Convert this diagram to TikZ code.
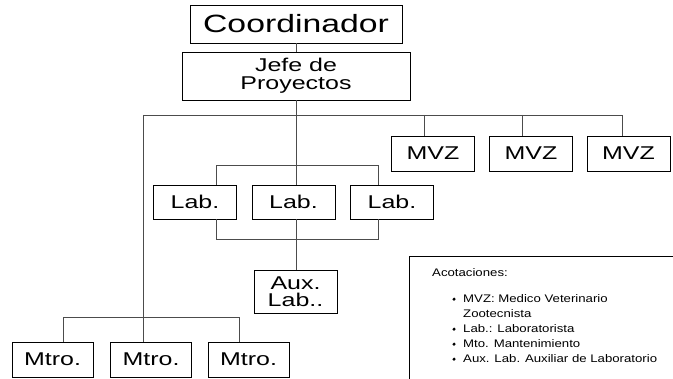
\documentclass[tikz,border=0pt]{standalone}
\usepackage{fontspec}
\setmainfont[FakeStretch=1.35]{Liberation Sans}
\newfontfamily\notafont[FakeStretch=1.2]{Liberation Sans}
\begin{document}
\begin{tikzpicture}[x=1pt,y=-1pt,
  puesto/.style={draw,line width=0.8pt,inner sep=0pt,minimum width=83pt,minimum height=35pt,
    font=\fontsize{18.5}{18}\selectfont,align=center},
  linea/.style={draw=black!70,line width=0.9pt},
  nota/.style={anchor=base west,inner sep=0pt,font=\notafont\fontsize{11}{13}\selectfont}]
  \useasboundingbox (0,0) rectangle (673,379);
  \clip (0,0) rectangle (673,379);
  % puestos
  \node[puesto,minimum width=212pt,minimum height=38pt,font=\fontsize{25}{25}\selectfont] (coord) at (296,24) {Coordinador};
  \node[puesto,minimum width=228pt,minimum height=48pt] (jefe) at (296,76) {Jefe de\\Proyectos};
  \foreach \n/\x in {1/433,2/531,3/628.5} \node[puesto] (mvz\n) at (\x,153.5) {MVZ};
  \foreach \n/\x in {1/195,2/293.5,3/392} \node[puesto,minimum height=34pt] (lab\n) at (\x,202) {Lab.};
  \node[puesto,minimum height=43pt,font=\fontsize{18.5}{17}\selectfont] (aux) at (295.5,291.5) {Aux.\\Lab..};
  \foreach \n/\x in {1/52.5,2/151,3/248.5} \node[puesto,minimum width=81pt] (mtro\n) at (\x,359.5) {Mtro.};
  % lineas
  \coordinate (bus) at (143,115);
  \draw[linea] (coord.south) -- (coord.south |- jefe.north);
  \draw[linea] (jefe.south) -- (jefe.south |- lab2.north);
  \draw[linea] (bus) -- ([xshift=-6.5pt]mvz3.north |- bus) -- ([xshift=-6.5pt]mvz3.north);
  \foreach \n in {1,2} \draw[linea] ([xshift=-8.5pt]mvz\n.north |- bus) -- ([xshift=-8.5pt]mvz\n.north);
  \draw[linea] (bus) -- (bus |- mtro2.north);
  \draw[linea] ([xshift=21pt]lab1.north) -- ++(0,-19) -| ([xshift=-14pt]lab3.north);
  \draw[linea] ([xshift=21pt]lab1.south) -- ++(0,20) -| ([xshift=-14pt]lab3.south);
  \draw[linea] (lab2.south -| jefe.south) -- (aux.north -| jefe.south);
  \draw[linea] ([xshift=10.5pt]mtro1.north) -- ++(0,-24) -| ([xshift=-9.5pt]mtro3.north);
  % acotaciones
  \draw[line width=0.8pt] (409,390) -- (409,256) -- (690,256);
  \node[nota] (acot) at (432,277) {Acotaciones:};
  \foreach \t/\y [count=\i] in {{MVZ: Medico Veterinario}/303,{Lab.: Laboratorista}/333,
      {Mto. Mantenimiento}/348,{Aux. Lab. Auxiliar de Laboratorio}/363} {
    \fill (454,\y-3.8) circle (1.7pt);
    \node[nota] (it\i) at (463,\y) {\t};
  }
  \node[nota] (zoo) at (463,318) {Zootecnista};
\end{tikzpicture}
\end{document}
